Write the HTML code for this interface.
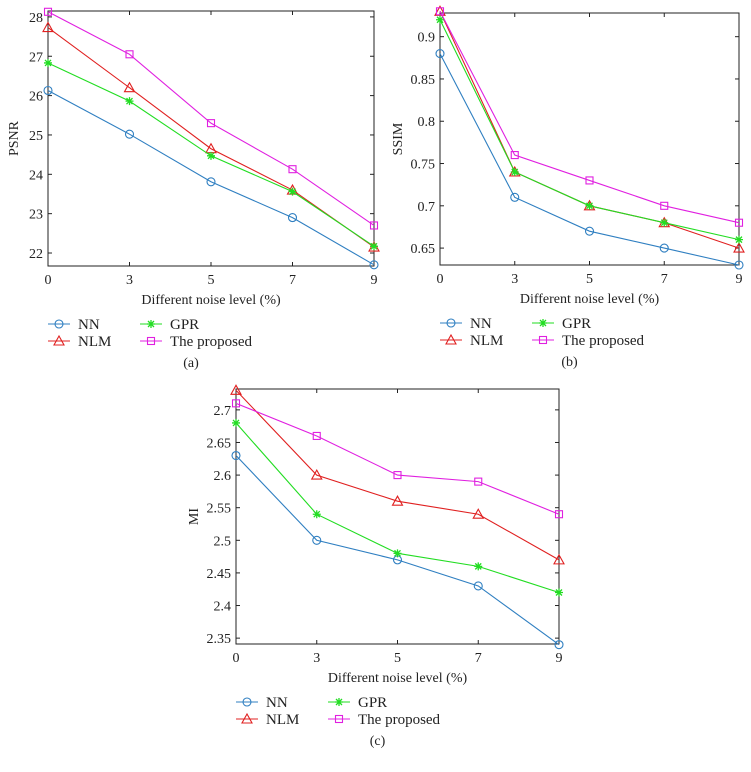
<!DOCTYPE html>
<html><head><meta charset="utf-8"><style>
html,body{margin:0;padding:0;background:#fff}
svg{display:block;font-family:"Liberation Serif",serif}
</style></head><body>
<svg id="c" width="751" height="772" xmlns="http://www.w3.org/2000/svg"></svg>
<script>
const categories = ["0","3","5","7","9"];
const seriesNames = ["NN","NLM","GPR","The proposed"];
const psnrNN = [26.13,25.02,23.81,22.90,21.70];
const psnrNLM = [27.73,26.20,24.65,23.60,22.15];
const psnrGPR = [26.83,25.86,24.47,23.56,22.17];
const psnrProp = [28.13,27.05,25.30,24.13,22.70];
const ssimNN = [0.88,0.71,0.67,0.65,0.63];
const ssimNLM = [0.93,0.74,0.70,0.68,0.65];
const ssimGPR = [0.92,0.74,0.70,0.68,0.66];
const ssimProp = [0.93,0.76,0.73,0.70,0.68];
const miNN = [2.63,2.50,2.47,2.43,2.34];
const miNLM = [2.73,2.60,2.56,2.54,2.47];
const miGPR = [2.68,2.54,2.48,2.46,2.42];
const miProp = [2.71,2.66,2.60,2.59,2.54];
const psnrTicks = [22,23,24,25,26,27,28];
const ssimTicks = [0.65,0.7,0.75,0.8,0.85,0.9];
const miTicks = [2.35,2.4,2.45,2.5,2.55,2.6,2.65,2.7];

const NS="http://www.w3.org/2000/svg";
const svg=document.getElementById('c');
const colors=["#2f7fc1","#e02020","#22dd22","#e020e0"];
const markers=["circle","triangle","star","square"];
function el(t,a,p){const e=document.createElementNS(NS,t);for(const k in a)e.setAttribute(k,a[k]);(p||svg).appendChild(e);return e;}
function marker(g,type,x,y,col){
  let m;
  if(type==="circle")m=el('circle',{cx:x,cy:y,r:4,fill:'none',stroke:col,'stroke-width':1.1},g);
  else if(type==="triangle")m=el('polygon',{points:`${x},${y-5} ${x-5},${y+4} ${x+5},${y+4}`,fill:'none',stroke:col,'stroke-width':1.1},g);
  else if(type==="square")m=el('rect',{x:x-3.5,y:y-3.5,width:7,height:7,fill:'none',stroke:col,'stroke-width':1.1},g);
  else m=el('path',{d:`M${x-4} ${y}H${x+4}M${x} ${y-4}V${y+4}M${x-3} ${y-3}L${x+3} ${y+3}M${x-3} ${y+3}L${x+3} ${y-3}`,stroke:col,'stroke-width':1.3},g);
  return m;
}
function panel(o){
  const g=el('g',{});
  
  
  const sx=i=>o.L+(o.R-o.L)*i/(categories.length-1);
  const sy=v=>o.B-(v-o.ymin)/(o.ymax-o.ymin)*(o.B-o.T);
  const ax=el('rect',{x:o.L,y:o.T,width:o.R-o.L,height:o.B-o.T,fill:'none',stroke:'#222','stroke-width':1},g);
  
  
  o.ticks.forEach(t=>{
    const y=sy(t);
    el('line',{x1:o.L,x2:o.L+4,y1:y,y2:y,stroke:'#222'},g);
    el('line',{x1:o.R,x2:o.R-4,y1:y,y2:y,stroke:'#222'},g);
    const tx=el('text',{x:o.L-5,y:y+5,'text-anchor':'end','font-size':14,fill:'#222'},g);
    tx.textContent=String(t);
    
    
  });
  categories.forEach((c,i)=>{
    const x=sx(i);
    el('line',{x1:x,x2:x,y1:o.B,y2:o.B-4,stroke:'#222'},g);
    el('line',{x1:x,x2:x,y1:o.T,y2:o.T+4,stroke:'#222'},g);
    const tx=el('text',{x:x,y:o.B+18,'text-anchor':'middle','font-size':14,fill:'#222'},g);
    tx.textContent=c;
    
    
  });
  o.series.forEach((s,k)=>{
    const pts=s.map((v,i)=>sx(i)+','+sy(v)).join(' ');
    const pl=el('polyline',{points:pts,fill:'none',stroke:colors[k],'stroke-width':1.1},g);
    
    
    s.forEach((v,i)=>{const m=marker(g,markers[k],sx(i),sy(v),colors[k]);
      
      });
  });
  const xl=el('text',{x:(o.L+o.R)/2,y:o.B+38,'text-anchor':'middle','font-size':14,fill:'#222'},g);
  xl.textContent="Different noise level (%)";
  
  
  const yl=el('text',{x:0,y:0,transform:`translate(${o.L-o.yoff},${(o.T+o.B)/2}) rotate(-90)`,'text-anchor':'middle','font-size':14,fill:'#222'},g);
  yl.textContent=o.ytitle;
  
  
  const lx=o.L, ly=o.B+58;
  seriesNames.forEach((n,k)=>{
    const cx=lx+(k>=2?92:0), cy=ly+(k%2)*17;
    const lg=el('g',{},g);
    
    
    el('line',{x1:cx,x2:cx+22,y1:cy,y2:cy,stroke:colors[k],'stroke-width':1.1},lg);
    marker(lg,markers[k],cx+11,cy,colors[k]);
    const t=el('text',{x:cx+30,y:cy+5,'font-size':15,fill:'#222'},lg);
    t.textContent=n;
  });
  const cap=el('text',{x:(o.L+o.R)/2-20,y:o.B+101,'text-anchor':'middle','font-size':14,fill:'#222'},g);
  cap.textContent=o.cap;
  
  
}
panel({name:'psnr-chart',L:48,R:374,T:11,B:266,ymin:21.67,ymax:28.15,ticks:psnrTicks,series:[psnrNN,psnrNLM,psnrGPR,psnrProp],ytitle:'PSNR',yoff:30,cap:'(a)'});
panel({name:'ssim-chart',L:440,R:739,T:13,B:265,ymin:0.630,ymax:0.928,ticks:ssimTicks,series:[ssimNN,ssimNLM,ssimGPR,ssimProp],ytitle:'SSIM',yoff:38,cap:'(b)'});
panel({name:'mi-chart',L:236,R:559,T:389,B:644,ymin:2.341,ymax:2.732,ticks:miTicks,series:[miNN,miNLM,miGPR,miProp],ytitle:'MI',yoff:38,cap:'(c)'});
</script>
</body></html>
